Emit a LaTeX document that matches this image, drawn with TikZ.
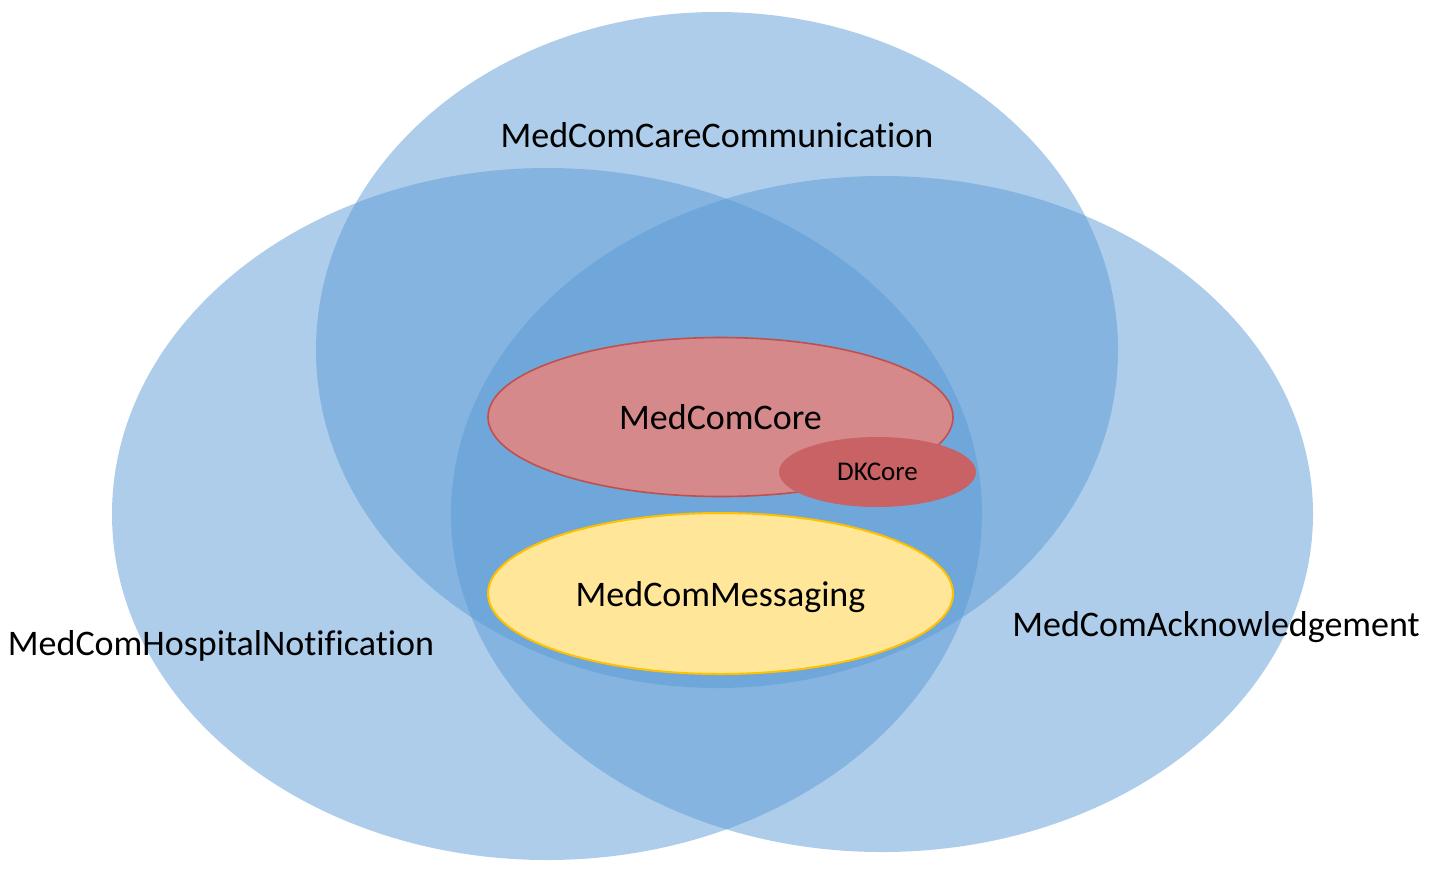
\documentclass[tikz,border=0pt]{standalone}
\usepackage{fontspec}
\setmainfont{Carlito}[Ligatures=NoCommon]
\usetikzlibrary{shapes.geometric}

\definecolor{setblue}{HTML}{5B9BD5}
\definecolor{corefill}{HTML}{D6898B}
\definecolor{coreline}{HTML}{C0504D}
\definecolor{dkfill}{HTML}{C86264}
\definecolor{msgfill}{HTML}{FFE699}
\definecolor{msgline}{HTML}{FFC000}

\tikzset{
  set/.style = {ellipse, inner sep=0pt, fill=setblue, fill opacity=0.5, text opacity=1},
  inner/.style = {ellipse, inner sep=0pt, line width=0.8pt, text depth=0pt}
}

\begin{document}
\begin{tikzpicture}[x=0.5pt, y=-0.5pt,
    nodes = {font=\fontsize{18}{22}\selectfont}]
  \useasboundingbox (0,0) rectangle (1433,891);
  % The three big sets (centre, width and height in px)
  \foreach \name/\cx/\cy/\w/\h in {
      care/717/350/802/676,
      hosp/547/514/870/692,
       ack/882/514/862/676%
    } {
      \node[set, minimum width=0.5*\w pt, minimum height=0.5*\h pt]
        (\name) at (\cx,\cy) {};
    };
  % Set labels, placed on their baselines
  \node[anchor=base] (carelabel) at (717,147) {MedComCareCommunication};
  \node[anchor=base] (hosplabel) at (221,655) {MedComHospitalNotification};
  \node[anchor=base] (acklabel) at (1216,636) {MedComAcknowledgement};
  % Inner profiles
  \node[inner, fill=corefill, draw=coreline, minimum width=232.5pt,
    minimum height=79.5pt] (core) at (720.5,417) {MedComCore};
  \node[inner, fill=dkfill, minimum width=98.5pt, minimum height=35pt,
    font=\fontsize{13.5}{16}\selectfont] (dkcore) at (877.5,472) {DKCore};
  \node[inner, fill=msgfill, draw=msgline, line width=1pt,
    minimum width=232.5pt, minimum height=80.5pt]
    (msg) at (720.5,593.5) {MedComMessaging};
\end{tikzpicture}
\end{document}
